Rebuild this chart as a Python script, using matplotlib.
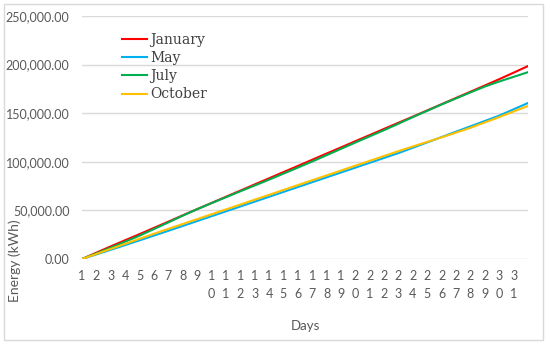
import matplotlib
matplotlib.use("Agg")
import matplotlib.pyplot as plt
from matplotlib.patches import Rectangle
from matplotlib.ticker import FuncFormatter

# Cumulative energy (kWh) at the start of each day, days 1..31 plus end of day 31
days_elapsed = list(range(0, 32))
january = [0, 6500, 13000, 19300, 25600, 32000, 38400, 44900, 51300, 57600, 64000,
           70300, 76700, 83000, 89400, 95700, 102100, 108500, 114800, 121200, 127500,
           133900, 140200, 146500, 152900, 159300, 165700, 172100, 178500, 185000,
           191700, 198500]
may = [0, 4700, 9500, 14300, 19200, 24100, 29000, 34000, 39000, 44000, 49000,
       54000, 59000, 64000, 69000, 74000, 79000, 84000, 89000, 94000, 99000,
       104000, 109000, 114500, 120000, 125500, 131000, 136500, 142000, 147500,
       154000, 160500]
july = [0, 5800, 11700, 17800, 24000, 30800, 37600, 44600, 51200, 57400, 63500,
        69600, 75600, 81600, 87800, 94000, 100300, 106800, 113300, 119800, 126200,
        132600, 139200, 146000, 152500, 159000, 165200, 171400, 177400, 182600,
        187400, 192200]
october = [0, 5200, 10400, 15600, 20800, 26000, 31000, 36000, 41000, 46000, 51000,
           56000, 61000, 66000, 71000, 76000, 81000, 86000, 91000, 96000, 101000,
           106000, 111000, 115800, 120500, 125200, 130000, 135000, 140500, 146000,
           151800, 157400]
day_labels = [str(d) for d in range(1, 32)]
y_ticks = [0, 50000, 100000, 150000, 200000, 250000]

W, H = 550, 345
fig = plt.figure(figsize=(W / 100, H / 100), dpi=100)
fig.patch.set_facecolor("white")
fig.add_artist(Rectangle((4 / W, 1 - 340 / H), (543 - 4) / W, (340 - 4) / H,
                         transform=fig.transFigure, fill=False,
                         edgecolor="#d9d9d9", linewidth=1))

ax = fig.add_axes([82 / W, 1 - 259 / H, (528 - 82) / W, (259 - 16) / H])
series = [("January", january, "#FF0000"), ("May", may, "#00B0F0"),
          ("July", july, "#00B050"), ("October", october, "#FFC000")]
for name, vals, col in series:
    ax.plot(days_elapsed, vals, color=col, linewidth=1.5, label=name)

ax.set_xlim(0, 31)
ax.set_ylim(0, 250000)
ax.set_yticks(y_ticks)
ax.yaxis.set_major_formatter(FuncFormatter(lambda v, p: f"{v:,.2f}"))
ax.set_xticks(range(0, 31))
ax.set_xticklabels(["\n".join(s) for s in day_labels], linespacing=1.6)
ax.grid(axis="y", color="#d9d9d9", linewidth=1)
ax.set_axisbelow(True)
for s in ax.spines.values():
    s.set_visible(False)
ax.tick_params(axis="both", length=0, colors="#595959")
ax.tick_params(axis="x", pad=8, labelsize=9)
ax.tick_params(axis="y", pad=9, labelsize=9)
for lab in ax.get_xticklabels() + ax.get_yticklabels():
    lab.set_family("Lato")

fig.text(305 / W, 1 - 326 / H, "Days", ha="center", va="center",
         fontsize=9.5, color="#595959", family="Lato")
fig.text(15 / W, 1 - 261 / H, "Energy (kWh)", ha="center", va="center",
         rotation=90, fontsize=10, color="#595959", family="Lato")

leg = ax.legend(loc="upper left", bbox_to_anchor=(122 / W, 1 - 33 / H),
                bbox_transform=fig.transFigure, frameon=False,
                prop={"family": "DejaVu Serif", "size": 10},
                handlelength=1.8, handletextpad=0.25, labelspacing=0.3,
                borderaxespad=0, borderpad=0)
for t in leg.get_texts():
    t.set_color("#404040")

fig.savefig("out.png", dpi=100, facecolor="white")
